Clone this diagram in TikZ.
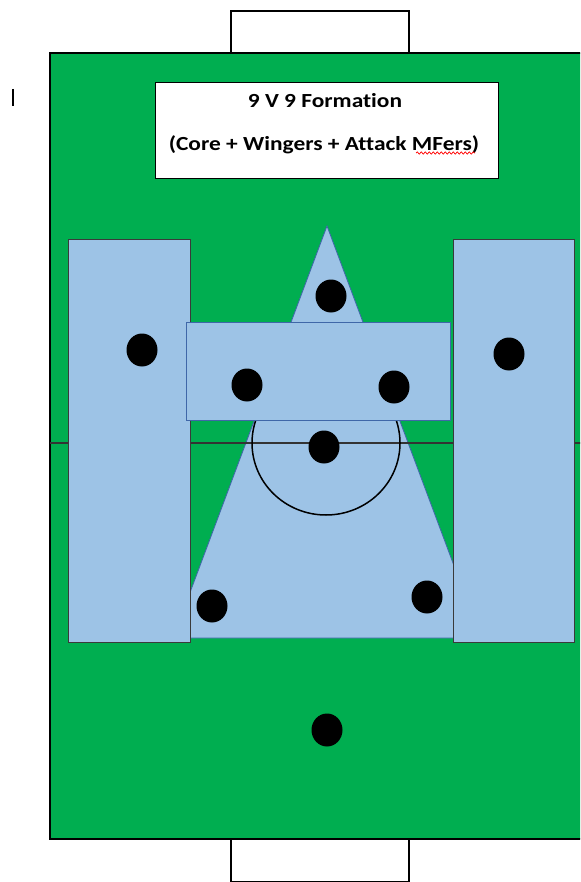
\documentclass[tikz,border=0pt]{standalone}
\usepackage{fontspec}
\setmainfont{Carlito}[Ligatures=NoCommon]
\usetikzlibrary{shapes.geometric,decorations.pathmorphing}
\definecolor{pitch}{HTML}{00AE50}
\definecolor{zone}{HTML}{9DC3E6}
\definecolor{zoneline}{HTML}{3F67A8}
\definecolor{wingline}{HTML}{3A3A3A}
\tikzset{
  player/.style={ellipse,fill=black,draw=none,minimum width=31pt,minimum height=33pt,inner sep=0pt},
  goalbox/.style={draw=black,line width=2.2pt,fill=white},
  wingzone/.style={draw=wingline,line width=0.8pt,fill=zone},
  corezone/.style={draw=zoneline,line width=0.8pt,fill=zone},
  titletext/.style={font=\bfseries\fontsize{20}{24}\selectfont,inner sep=0pt},
}
\begin{document}
\begin{tikzpicture}[x=1pt,y=-1pt]
\useasboundingbox (0,0) rectangle (580,882);
\clip (0,0) rectangle (580,882);
% goals
\draw[goalbox] (231,11) rectangle (409,53);
\draw[goalbox] (231,839) rectangle (409,882);
% pitch
\draw[draw=black,line width=1.6pt,fill=pitch] (50,53) rectangle (586,839);
% cursor mark
\draw[line width=1.2pt] (13,89) -- (13,106);
% title
\node[draw=black,line width=0.9pt,fill=white,minimum width=343pt,minimum height=96pt,anchor=north west,inner sep=0pt] (title) at (155,82) {};
\node[titletext] (t1) at (325,101) {\scalebox{1.17}[1]{9 V 9 Formation}};
\node[titletext] (t2) at (324,145) {\scalebox{1.17}[1]{(Core + Wingers + Attack MFers)}};
\draw[red,line width=0.7pt,decorate,decoration={snake,amplitude=1.2pt,segment length=4pt}] (416,153) -- (475,153);
% core triangle
\draw[corezone] (327,226) -- (481,638) -- (173,638) -- cycle;
% halfway line and centre circle
\draw[line width=1.1pt,draw=black!80] (50,443) -- (586,443);
\draw[line width=1.5pt] (326,443) ellipse (74pt and 72pt);
% wingers
\draw[wingzone] (68,239) rectangle (190,642);
\draw[wingzone] (453,239) rectangle (574,642);
% attacking midfield band
\draw[corezone] (186,322) rectangle (450,420);
% players
\node[player] (p1) at (331,296) {};
\node[player] (p2) at (247,385) {};
\node[player] (p3) at (394,387) {};
\node[player] (p4) at (324,447) {};
\node[player] (p5) at (212,606) {};
\node[player] (p6) at (427,597) {};
\node[player] (p7) at (142,350) {};
\node[player] (p8) at (509,354) {};
\node[player] (p9) at (327,730) {};
\end{tikzpicture}
\end{document}
